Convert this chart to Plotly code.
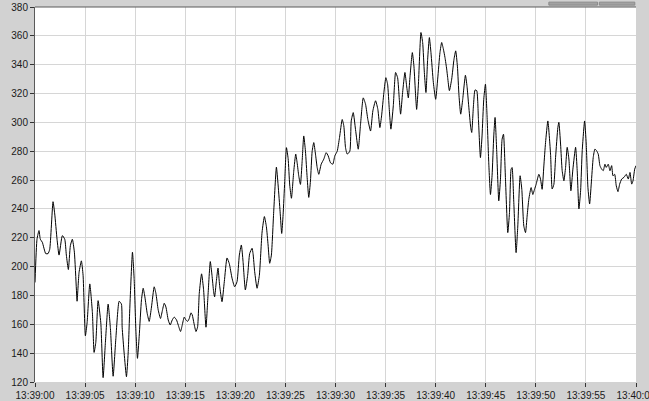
import pandas as pd
import plotly.graph_objects as go

# sample times (seconds after 13:39:00) and the measured signal
seconds = [
    0.00, 0.20, 0.40, 0.53, 0.73, 1.07, 1.30, 1.47, 1.80, 1.97, 2.20, 2.40, 2.73, 2.97,
    3.13, 3.33, 3.53, 3.73, 3.93, 4.13, 4.20, 4.40, 4.63, 4.80, 5.03, 5.20, 5.47, 5.73,
    5.90, 6.07, 6.30, 6.57, 6.80, 7.03, 7.30, 7.53, 7.80, 8.07, 8.40, 8.63,
    8.70, 8.90, 9.13, 9.30, 9.47, 9.73, 9.90, 10.07, 10.23, 10.40, 10.63, 10.80, 10.97,
    11.20, 11.40, 11.63, 11.90, 12.07, 12.30, 12.53, 12.70, 12.90, 13.07, 13.30, 13.50,
    13.70, 13.90, 14.13, 14.30, 14.53, 14.70, 14.90, 15.07, 15.23, 15.40, 15.57, 15.70,
    15.87, 16.07, 16.23, 16.40, 16.63, 16.83, 17.07,
    17.27, 17.50, 17.67, 17.83, 17.93, 18.10, 18.27, 18.43, 18.67, 18.90, 19.17, 19.40,
    19.67, 19.93, 20.17, 20.40, 20.60, 20.77, 21.00, 21.23, 21.43, 21.67, 21.77, 21.93,
    22.17, 22.40, 22.67, 22.90, 23.10, 23.27, 23.43, 23.60, 23.83, 24.10, 24.27, 24.47,
    24.63, 24.77, 24.93, 25.10, 25.27, 25.43, 25.60,
    25.83, 26.03, 26.17, 26.33, 26.50, 26.67, 26.83, 27.00, 27.17, 27.33, 27.50, 27.67,
    27.83, 28.00, 28.17, 28.33, 28.57, 28.83, 29.07, 29.27, 29.50, 29.73, 29.93, 30.17,
    30.40, 30.67, 30.83, 31.00, 31.17, 31.43, 31.57, 31.77, 32.00, 32.27, 32.50, 32.77,
    33.00, 33.23, 33.50, 33.73, 34.00, 34.23,
    34.43, 34.60, 34.83, 35.03, 35.20, 35.37, 35.53, 35.77, 36.00, 36.20, 36.37, 36.50,
    36.70, 36.93, 37.10, 37.27, 37.43, 37.67, 37.83, 38.00, 38.10, 38.27, 38.53, 38.70,
    38.87, 39.03, 39.20, 39.37, 39.53, 39.77, 40.00, 40.20, 40.43, 40.60, 40.77, 40.93,
    41.10, 41.20, 41.37, 41.60, 41.83, 42.00, 42.17, 42.33, 42.50, 42.70,
    42.97, 43.13, 43.30, 43.50, 43.60, 43.77, 43.93, 44.10, 44.27, 44.47, 44.63, 44.80,
    44.97, 45.13, 45.30, 45.47, 45.63, 45.80, 45.93, 46.10, 46.30, 46.47, 46.63, 46.77,
    46.97, 47.20, 47.37, 47.53, 47.63, 47.80, 48.03, 48.20, 48.43, 48.60, 48.80, 48.97,
    49.13, 49.30, 49.53, 49.70, 49.87, 50.03, 50.30, 50.47, 50.63, 50.80, 50.97, 51.20,
    51.47, 51.63, 51.80, 51.97, 52.20, 52.30, 52.47, 52.63, 52.80, 52.97, 53.13, 53.30,
    53.50, 53.70, 53.97, 54.13, 54.30, 54.47, 54.63, 54.87, 55.03, 55.20, 55.37, 55.53,
    55.73, 55.90, 56.07, 56.23, 56.40, 56.57, 56.73, 56.90, 57.03, 57.23, 57.40, 57.57,
    57.70, 57.87, 58.03, 58.20, 58.37, 58.57, 58.80, 59.03, 59.23, 59.40, 59.57, 59.70,
    59.87, 60.00,
]

values = [
    189, 219, 225, 219, 216.9, 209, 209, 212, 245, 236.5, 219, 208, 221.5, 219,
    208, 198, 214.5, 219, 210, 184.5, 176, 196, 204, 194, 152, 161, 188, 168,
    140.5, 147.5, 176.4, 161, 123, 147.5, 174, 157, 124, 150, 176, 174,
    158, 140, 123.7, 140, 172, 210, 191, 156, 136.4, 151.4, 177, 185, 179,
    167.6, 162, 172, 186, 181.5, 170, 164, 169, 174.6, 172, 163, 159.5,
    163, 165, 163, 159.5, 155, 159.5, 165, 163, 162, 164, 168, 166.5,
    160.7, 155, 158, 181.5, 195, 184, 158,
    180, 203.5, 194, 182.7, 179, 189.6, 199, 187, 175.7, 189.6, 206, 202,
    192, 186, 189.6, 208, 215, 203.5, 183.8, 194, 209, 212.7, 209, 196.5,
    185, 194, 224, 234.7, 227.7, 215, 202.3, 208, 238, 269, 256.6, 238,
    223, 236, 259, 282.5, 275, 256.6, 247.4,
    266, 278, 272, 263, 257, 273, 290.6, 280, 261.7, 248, 259.4, 280,
    286, 278, 268.7, 264, 271, 274.5, 279, 276.8, 272, 271, 276.8, 280,
    289.5, 302, 297.6, 282.5, 278, 280, 301, 306.8, 295, 281.4, 298.7, 317,
    312.6, 302, 294, 308, 315, 309,
    296.4, 304.5, 320.7, 331, 326.5, 309, 295.3, 311.5, 334.6, 331, 316, 305.7,
    320.7, 334.6, 325.3, 317, 331, 348.4, 339, 318.4, 309, 325.3, 362.3, 355.4,
    334.6, 320.7, 343.8, 358.8, 348.4, 327.6, 316, 330, 348.4, 355.4, 350.8, 345,
    337, 331, 322, 330, 343.8, 349.6, 339, 318.4, 305.7, 316,
    332.7, 325, 311.4, 296.4, 293, 311.4, 322.5, 322, 302, 275.6, 290.6, 316,
    326.5, 304.5, 272, 250, 263, 290.6, 303.4, 279, 245.6, 260.6, 288.3, 291.8,
    260.6, 223.6, 237.5, 267.5, 268.7, 244.4, 209.7, 228.2, 263, 253.6, 228.2, 223.6,
    235, 246.7, 254.8, 250, 253.6, 257, 264, 260.6, 253.6, 269.8, 286, 301,
    278, 253.8, 257, 275.7, 296.5, 300, 285, 266.5, 259.5, 268.8, 282.7, 274.6,
    252.6, 267.6, 282.7, 266.5, 240, 252.6, 280.3, 301, 285, 255, 243.4, 257.2,
    275.7, 281.5, 280.3, 278, 270, 267.6, 266.5, 271, 268.8, 271, 266.5, 270,
    263, 264, 256, 252, 257.2, 260.7, 261.9, 264, 260.7, 265.3, 257.2, 259.5,
    267.6, 270,
]

start_time = "2024-01-01 13:39:00"
y_ticks = list(range(120, 381, 20))

t0 = pd.Timestamp(start_time)
times = [t0 + pd.Timedelta(seconds=s) for s in seconds]
t_end = t0 + pd.Timedelta(seconds=60)

BG = "#d2d2d2"
GRID = "#d6d6d6"
FRAME = "#5a5a5a"
FONT = dict(family="Liberation Sans, Arial, sans-serif", size=10, color="#1a1a1a")

fig = go.Figure(
    go.Scatter(
        x=times,
        y=values,
        mode="lines",
        line=dict(color="#000000", width=1, shape="spline", smoothing=0.5),
        hoverinfo="skip",
    )
)

fig.update_layout(
    width=649,
    height=401,
    margin=dict(l=35, r=13, t=7, b=19, autoexpand=False),
    paper_bgcolor=BG,
    plot_bgcolor="#ffffff",
    showlegend=False,
    font=FONT,
)

fig.update_xaxes(
    type="date",
    range=[t0, t_end],
    tickmode="linear",
    tick0=t0,
    dtick=5000,
    tickformat="%H:%M:%S",
    ticks="outside",
    ticklen=4,
    tickcolor="#333333",
    ticklabeloverflow="allow",
    automargin=False,
    showgrid=True,
    gridcolor=GRID,
    gridwidth=1,
    showline=False,
    zeroline=False,
    tickfont=FONT,
)

fig.update_yaxes(
    range=[120, 380],
    tickmode="array",
    tickvals=y_ticks,
    ticktext=[str(v) for v in y_ticks],
    ticks="outside",
    ticklen=4,
    tickcolor="#333333",
    automargin=False,
    showgrid=True,
    gridcolor=GRID,
    gridwidth=1,
    showline=True,
    linecolor=FRAME,
    linewidth=1,
    zeroline=False,
    tickfont=FONT,
)

# sunken frame edge along the top of the plotting area
fig.add_shape(type="line", xref="paper", yref="paper", x0=0, x1=1, y0=1, y1=1,
              line=dict(color=FRAME, width=1))

# two small tab handles above the top-right corner
for x0, x1 in [(0.855, 0.936), (0.939, 0.998)]:
    fig.add_shape(type="rect", xref="paper", yref="paper",
                  x0=x0, x1=x1, y0=1.005, y1=1.013,
                  fillcolor="#a2a2a2", line=dict(color="#8a8a8a", width=1))

fig.write_html("out.html")
